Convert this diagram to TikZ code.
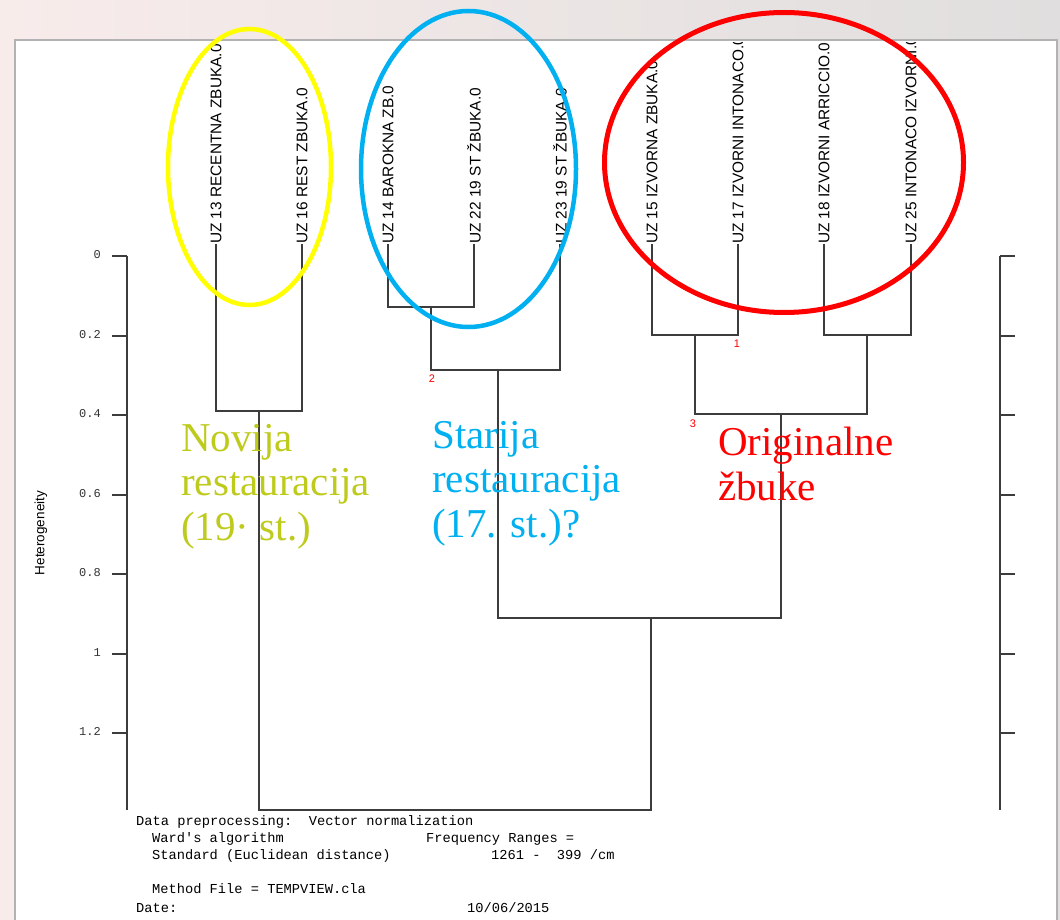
\documentclass[tikz,border=0pt]{standalone}
\usepackage{fontspec}
\newfontfamily\labfont{Liberation Sans}
\newfontfamily\monofont{Liberation Mono}
\newfontfamily\notefont{Liberation Serif}
\definecolor{novcol}{RGB}{191,203,28}
\definecolor{starcol}{RGB}{0,176,240}
\definecolor{origcol}{RGB}{255,0,0}
\definecolor{yelcol}{RGB}{255,255,0}
\definecolor{bgpink}{RGB}{248,236,235}
\definecolor{bggray}{RGB}{224,222,222}
\definecolor{dendro}{RGB}{60,60,60}
\begin{document}
\begin{tikzpicture}[x=1pt,y=-1pt,
  dline/.style={draw=dendro, line width=1.4pt},
  axline/.style={draw=dendro, line width=1.6pt},
  leaf/.style={rotate=90, anchor=west, inner sep=0pt, text=black, font=\labfont\fontsize{15.4}{18}\selectfont},
  ticklab/.style={anchor=mid east, inner sep=0pt, text=black!80, font=\monofont\fontsize{12}{14}\selectfont},
  rednum/.style={inner sep=0pt, text=red, font=\labfont\fontsize{11}{13}\selectfont},
  note/.style={anchor=base west, inner sep=0pt, align=left, font=\notefont\fontsize{41}{44.5}\selectfont},
  info/.style={anchor=mid west, inner sep=0pt, text=black, font=\monofont\fontsize{13.7}{16}\selectfont},
  ring/.style={line width=4.5pt}]
\useasboundingbox (0,0) rectangle (1060,920);
% background
\shade[left color=bgpink, right color=bggray] (0,0) rectangle (1060,920);
\fill[white] (15,40) rectangle (1057,925);
\draw[draw=black!30, line width=1.8pt] (15,925) -- (15,40) -- (1057,40) -- (1057,925);

% leaves (clipped by the panel top)
\begin{scope}
\clip (15,43) rectangle (1057,920);
\node[leaf] (la) at (216,244) {UZ 13 RECENTNA ZBUKA.0};
\node[leaf] (lb) at (302,244) {UZ 16 REST ZBUKA.0};
\node[leaf] (lc) at (388,244) {UZ 14 BAROKNA ZB.0};
\node[leaf] (ld) at (474,244) {UZ 22 19 ST ŽBUKA.0};
\node[leaf] (le) at (560,244) {UZ 23 19 ST ŽBUKA.0};
\node[leaf] (lf) at (652,244) {UZ 15 IZVORNA ZBUKA.0};
\node[leaf] (lg) at (738,244) {UZ 17 IZVORNI INTONACO.0};
\node[leaf] (lh) at (824,244) {UZ 18 IZVORNI ARRICCIO.0};
\node[leaf] (li) at (911,244) {UZ 25 INTONACO IZVORNI.0};
\end{scope}

% merges
\coordinate (mab) at (259,411);
\coordinate (mcd) at (431,307);
\coordinate (mcde) at (498,370);
\coordinate (mfg) at (695,335);
\coordinate (mhi) at (867,335);
\coordinate (mfghi) at (781,414);
\coordinate (mall) at (651,618);
\coordinate (root) at (651,810);
\draw[dline] (la.west) |- (mab) -| (lb.west);
\draw[dline] (lc.west) |- (mcd) -| (ld.west);
\draw[dline] (mcd) |- (mcde) -| (le.west);
\draw[dline] (lf.west) |- (mfg) -| (lg.west);
\draw[dline] (lh.west) |- (mhi) -| (li.west);
\draw[dline] (mfg) |- (mfghi) -| (mhi);
\draw[dline] (mcde) |- (mall) -| (mfghi);
\draw[dline] (mab) |- (root) -| (mall);

\node[rednum] (n1) at (737,344) {1};
\node[rednum] (n2) at (432,379) {2};
\node[rednum] (n3) at (693,424) {3};

% axes
\draw[axline] (127,256) -- (127,810);
\draw[axline] (1000,256) -- (1000,810);
\foreach \y/\t [count=\k] in {256/0,336/0.2,415/0.4,495/0.6,574/0.8,654/1,733/1.2}{
  \draw[axline] (112,\y) -- (127,\y);
  \draw[axline] (1000,\y) -- (1015,\y);
  \node[ticklab] (t\k) at (101,\y) {\t};
}
\node[rotate=90, inner sep=0pt, font=\labfont\fontsize{13.5}{16}\selectfont] (ylab) at (41,533) {Heterogeneity};

% annotations (anchored at the baseline of the last line)
\node[note, text=novcol] (nov) at (181,540) {Novija\\restauracija\\(19· st.)};
\node[note, text=starcol] (star) at (432,537) {Starija\\restauracija\\(17. st.)?};
\node[note, text=origcol] (orig) at (718,500) {Originalne\\žbuke};

% rings
\draw[ring, draw=yelcol] (249.5,167) ellipse [x radius=81.5, y radius=138];
\draw[ring, draw=starcol] (468.5,169) ellipse [x radius=107.5, y radius=158];
\draw[ring, draw=origcol, line width=5pt] (784,162.5) ellipse [x radius=179.5, y radius=150];

% info text
\node[info] (i1) at (136,823) {Data preprocessing:\ \ Vector normalization};
\node[info] (i2) at (152,840) {Ward's algorithm};
\node[info] (i3) at (426,840) {Frequency Ranges =};
\node[info] (i4) at (152,857) {Standard (Euclidean distance)};
\node[info] (i5) at (491,857) {1261 -\ \ 399 /cm};
\node[info] (i6) at (152,891) {Method File = TEMPVIEW.cla};
\node[info] (i7) at (136,910) {Date:};
\node[info] (i8) at (467,910) {10/06/2015};
\end{tikzpicture}
\end{document}
